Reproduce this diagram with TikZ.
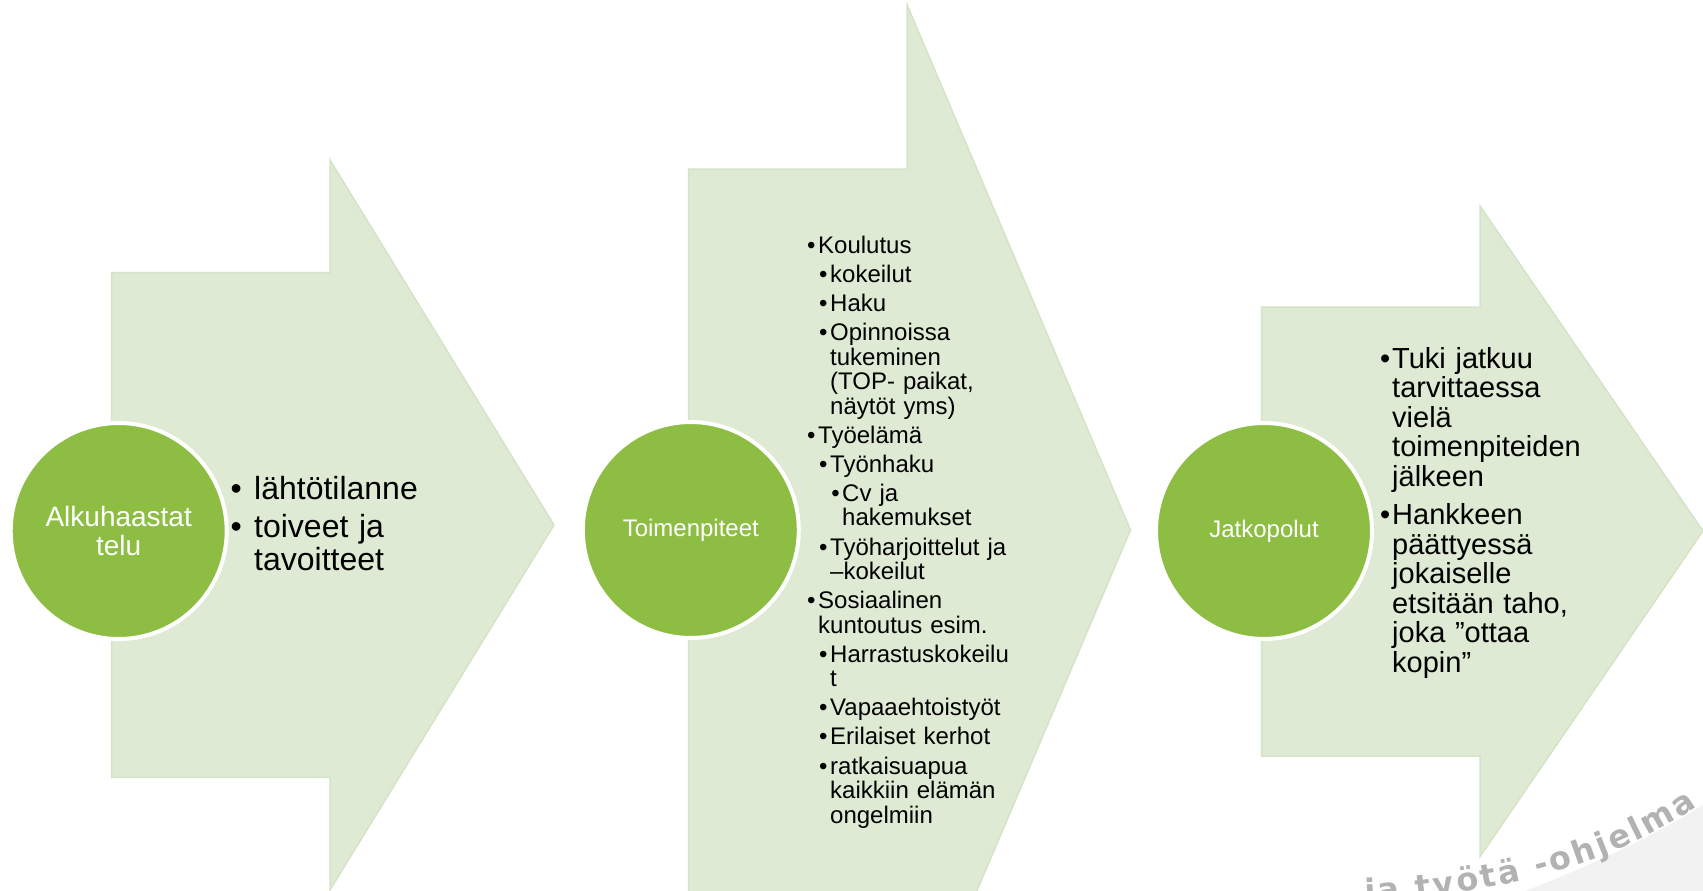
\documentclass[tikz,border=0pt]{standalone}
\usepackage{fontspec}
\setmainfont{Liberation Sans}
\newfontfamily\markfont{DejaVu Sans}
\usetikzlibrary{decorations.text}

\definecolor{arrowfill}{RGB}{222,234,211}
\definecolor{arrowline}{RGB}{213,227,199}
\definecolor{stagegreen}{RGB}{141,190,67}
\definecolor{markgray}{RGB}{178,178,178}
\definecolor{ringgray}{RGB}{242,242,242}

% bullet paragraph: indent, gap after bullet, text
\newcommand\entry[3]{\hangindent=#1pt\hangafter=0\noindent\llap{\textbullet\hspace{#2pt}}#3\par}
\newcommand\markstyle{\markfont\bfseries\fontsize{32}{32}\selectfont}

\begin{document}
\begin{tikzpicture}[x=1pt, y=-1pt,
    stagearrow/.style={fill=arrowfill, draw=arrowline, line width=1.5pt, line join=miter},
    stagecircle/.style={circle, fill=stagegreen, draw=white, line width=4pt, minimum size=216pt,
      inner sep=0pt, text=white, align=center},
    bulletlist/.style={anchor=base west, inner sep=0pt, align=left, text width=#1}]
  \useasboundingbox (0,0) rectangle (1703,891);
  \clip (0,0) rectangle (1703,891);

  % watermark in the corner
  \fill[ringgray] (1525,891) .. controls (1590,866) and (1650,838) .. (1703,805) -- (1703,891) -- cycle;
  \path[decorate, decoration={text along path, text align=fit to path, text color=markgray,
      text={|\markstyle|ja työtä -ohjelma}}]
    (1365,902) .. controls (1480,897) and (1610,868) .. (1697,806);

  % arrows
  \draw[stagearrow] (111.7,272.7) -- (330,272.7) -- (330,160) -- (554,525) -- (330,890) -- (330,777.4) -- (111.7,777.4) -- cycle;
  \draw[stagearrow] (688.5,169) -- (907,169) -- (907,4.7) -- (1130.5,530) -- (907,1055) -- (907,900) -- (688.5,900) -- cycle;
  \draw[stagearrow] (1261.5,307) -- (1480,307) -- (1480,206) -- (1703,531) -- (1480,856.7) -- (1480,756) -- (1261.5,756) -- cycle;

  % stages
  \node[stagecircle, font=\fontsize{28}{29}\selectfont] (intake) at (118.7,531) {Alkuhaastat\\telu};
  \node[stagecircle, font=\fontsize{24}{26}\selectfont] (actions) at (690.8,530) {Toimenpiteet};
  \node[stagecircle, font=\fontsize{24}{26}\selectfont] (paths) at (1264,531) {Jatkopolut};

  % bullet texts
  \node[bulletlist=300pt, font=\fontsize{32}{33}\selectfont] (intakelist) at (220,499) {\setlength\parskip{5pt}%
    \entry{34}{12.4}{lähtötilanne}
    \entry{34}{12.4}{toiveet ja\newline tavoitteet}};
  \node[bulletlist=260pt, font=\fontsize{24}{24.5}\selectfont] (actionlist) at (800,253.3) {\setlength\parskip{4.6pt}%
    \entry{18}{2.8}{Koulutus}
    \entry{30}{2.8}{kokeilut}
    \entry{30}{2.8}{Haku}
    \entry{30}{2.8}{Opinnoissa\newline tukeminen\newline (TOP- paikat,\newline näytöt yms)}
    \entry{18}{2.8}{Työelämä}
    \entry{30}{2.8}{Työnhaku}
    \entry{42}{2.5}{Cv ja\newline hakemukset}
    \entry{30}{2.8}{Työharjoittelut ja\newline –kokeilut}
    \entry{18}{2.8}{Sosiaalinen\newline kuntoutus esim.}
    \entry{30}{2.8}{Harrastuskokeilu\newline t}
    \entry{30}{2.8}{Vapaaehtoistyöt}
    \entry{30}{2.8}{Erilaiset kerhot}
    \entry{30}{2.8}{ratkaisuapua\newline kaikkiin elämän\newline ongelmiin}};
  \node[bulletlist=330pt, font=\fontsize{29}{29.5}\selectfont] (pathlist) at (1370,368.3) {\setlength\parskip{8.8pt}%
    \entry{22}{1.9}{Tuki jatkuu\newline tarvittaessa\newline vielä\newline toimenpiteiden\newline jälkeen}
    \entry{22}{1.9}{Hankkeen\newline päättyessä\newline jokaiselle\newline etsitään taho,\newline joka ”ottaa\newline kopin”}};
\end{tikzpicture}
\end{document}
